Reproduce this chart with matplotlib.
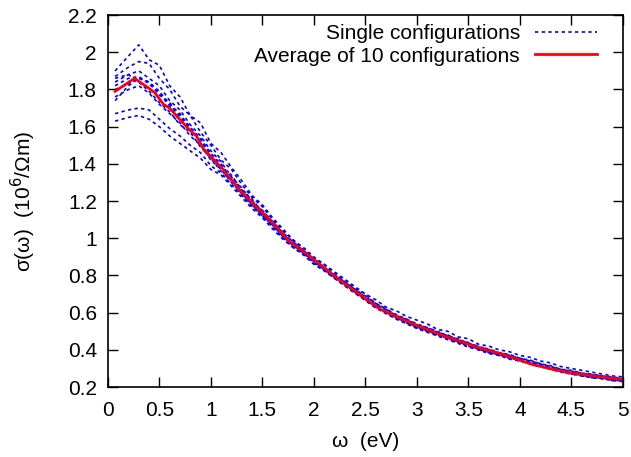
import matplotlib
matplotlib.use('Agg')
import matplotlib.pyplot as plt
from matplotlib.ticker import FuncFormatter

plt.rcParams['font.family'] = ['Liberation Sans', 'DejaVu Sans']

# photon energy grid (eV)
omega = [0.07, 0.2, 0.3, 0.4, 0.5, 0.6, 0.7, 0.8, 0.9, 1.0,
         1.1, 1.2, 1.3, 1.4, 1.5, 1.6, 1.7, 1.8, 1.9, 2.0,
         2.1, 2.2, 2.3, 2.4, 2.5, 2.6, 2.7, 2.8, 2.9, 3.0,
         3.1, 3.2, 3.3, 3.4, 3.5, 3.6, 3.7, 3.8, 3.9, 4.0,
         4.1, 4.2, 4.3, 4.4, 4.5, 4.6, 4.7, 4.8, 4.9, 5.0]

# sigma(omega) of the single configurations (10^6 / Ohm m)
conf1 = [1.90, 1.98, 2.04, 1.96, 1.93, 1.82, 1.76, 1.66, 1.62, 1.51,
         1.46, 1.38, 1.31, 1.23, 1.18, 1.11, 1.05, 0.99, 0.95, 0.90,
         0.86, 0.82, 0.78, 0.74, 0.70, 0.67, 0.63, 0.61, 0.58, 0.56,
         0.54, 0.51, 0.50, 0.47, 0.46, 0.43, 0.42, 0.40, 0.39, 0.37,
         0.36, 0.34, 0.33, 0.31, 0.30, 0.29, 0.28, 0.27, 0.26, 0.255]
conf2 = [1.87, 1.92, 1.95, 1.94, 1.86, 1.80, 1.71, 1.66, 1.57, 1.50,
         1.42, 1.37, 1.29, 1.22, 1.17, 1.10, 1.04, 0.99, 0.94, 0.89,
         0.86, 0.81, 0.77, 0.73, 0.70, 0.65, 0.62, 0.59, 0.565, 0.54,
         0.52, 0.50, 0.475, 0.46, 0.435, 0.42, 0.40, 0.385, 0.37, 0.355,
         0.34, 0.325, 0.31, 0.295, 0.285, 0.275, 0.265, 0.26, 0.25, 0.245]
conf3 = [1.84, 1.88, 1.90, 1.86, 1.82, 1.74, 1.69, 1.61, 1.55, 1.47,
         1.41, 1.33, 1.27, 1.20, 1.15, 1.09, 1.03, 0.98, 0.935, 0.89,
         0.845, 0.80, 0.765, 0.725, 0.69, 0.65, 0.62, 0.585, 0.565, 0.535,
         0.52, 0.495, 0.48, 0.455, 0.44, 0.415, 0.405, 0.385, 0.375, 0.355,
         0.345, 0.325, 0.315, 0.295, 0.29, 0.275, 0.27, 0.26, 0.255, 0.245]
conf4 = [1.82, 1.86, 1.87, 1.83, 1.78, 1.71, 1.66, 1.58, 1.53, 1.44,
         1.39, 1.32, 1.25, 1.19, 1.13, 1.08, 1.01, 0.97, 0.92, 0.88,
         0.83, 0.79, 0.75, 0.71, 0.67, 0.635, 0.60, 0.575, 0.545, 0.525,
         0.50, 0.485, 0.46, 0.445, 0.42, 0.405, 0.385, 0.375, 0.355, 0.345,
         0.325, 0.315, 0.295, 0.285, 0.27, 0.265, 0.25, 0.25, 0.235, 0.235]
conf5 = [1.80, 1.83, 1.86, 1.84, 1.77, 1.73, 1.65, 1.60, 1.52, 1.46,
         1.38, 1.34, 1.26, 1.21, 1.14, 1.09, 1.02, 0.98, 0.93, 0.885,
         0.84, 0.805, 0.76, 0.725, 0.68, 0.645, 0.605, 0.58, 0.55, 0.53,
         0.505, 0.49, 0.465, 0.45, 0.425, 0.41, 0.39, 0.38, 0.36, 0.35,
         0.33, 0.32, 0.30, 0.29, 0.275, 0.27, 0.255, 0.255, 0.24, 0.24]
conf6 = [1.86, 1.88, 1.84, 1.79, 1.73, 1.68, 1.61, 1.57, 1.49, 1.43,
         1.36, 1.31, 1.24, 1.18, 1.13, 1.07, 1.01, 0.96, 0.92, 0.87,
         0.835, 0.79, 0.755, 0.71, 0.675, 0.63, 0.605, 0.57, 0.55, 0.52,
         0.505, 0.48, 0.465, 0.44, 0.43, 0.40, 0.39, 0.37, 0.36, 0.34,
         0.33, 0.31, 0.30, 0.285, 0.275, 0.26, 0.255, 0.245, 0.24, 0.235]
conf7 = [1.76, 1.80, 1.82, 1.78, 1.72, 1.67, 1.62, 1.55, 1.50, 1.42,
         1.37, 1.30, 1.24, 1.18, 1.12, 1.07, 1.01, 0.96, 0.925, 0.875,
         0.84, 0.795, 0.76, 0.715, 0.685, 0.64, 0.615, 0.58, 0.56, 0.53,
         0.515, 0.49, 0.475, 0.45, 0.435, 0.41, 0.40, 0.38, 0.37, 0.35,
         0.34, 0.32, 0.31, 0.29, 0.285, 0.27, 0.265, 0.255, 0.25, 0.24]
conf8 = [1.74, 1.82, 1.86, 1.84, 1.79, 1.72, 1.67, 1.59, 1.54, 1.45,
         1.40, 1.32, 1.26, 1.19, 1.15, 1.08, 1.03, 0.97, 0.935, 0.88,
         0.845, 0.80, 0.765, 0.72, 0.685, 0.64, 0.61, 0.58, 0.555, 0.53,
         0.51, 0.49, 0.47, 0.45, 0.43, 0.41, 0.395, 0.38, 0.365, 0.35,
         0.335, 0.32, 0.305, 0.29, 0.28, 0.27, 0.26, 0.255, 0.245, 0.24]
conf9 = [1.67, 1.69, 1.70, 1.69, 1.64, 1.59, 1.55, 1.50, 1.46, 1.39,
         1.35, 1.29, 1.23, 1.17, 1.12, 1.06, 1.00, 0.95, 0.915, 0.865,
         0.83, 0.785, 0.745, 0.705, 0.665, 0.625, 0.595, 0.565, 0.54, 0.515,
         0.495, 0.475, 0.455, 0.435, 0.415, 0.40, 0.38, 0.37, 0.35, 0.34,
         0.325, 0.31, 0.295, 0.28, 0.27, 0.26, 0.25, 0.245, 0.235, 0.23]
conf10 = [1.63, 1.65, 1.66, 1.64, 1.60, 1.55, 1.51, 1.47, 1.43, 1.37,
          1.34, 1.28, 1.22, 1.16, 1.11, 1.05, 0.995, 0.95, 0.91, 0.86,
          0.825, 0.785, 0.745, 0.705, 0.67, 0.63, 0.60, 0.57, 0.545, 0.52,
          0.50, 0.48, 0.46, 0.44, 0.42, 0.405, 0.385, 0.375, 0.355, 0.345,
          0.33, 0.315, 0.30, 0.285, 0.275, 0.265, 0.255, 0.25, 0.24, 0.235]
singles = [conf1, conf2, conf3, conf4, conf5, conf6, conf7, conf8, conf9, conf10]

# average of the 10 configurations
omega_avg = [0.07, 0.26, 0.31, 0.39, 0.46, 0.54, 0.60, 0.68, 0.78, 0.86, 0.93, 1.12, 1.28, 1.44,
             1.57, 1.77, 1.90, 2.06, 2.24, 2.64, 2.96, 3.29, 3.61, 3.81, 4.13, 4.45, 4.78, 5.0]
sigma_avg = [1.79, 1.86, 1.84, 1.81, 1.78, 1.72, 1.70, 1.65, 1.59, 1.55, 1.48, 1.37, 1.26, 1.17,
             1.10, 0.98, 0.93, 0.86, 0.78, 0.62, 0.54, 0.47, 0.41, 0.38, 0.32, 0.28, 0.255, 0.24]

xticks = [0, 0.5, 1, 1.5, 2, 2.5, 3, 3.5, 4, 4.5, 5]
yticks = [0.2, 0.4, 0.6, 0.8, 1.0, 1.2, 1.4, 1.6, 1.8, 2.0, 2.2]

fig = plt.figure(figsize=(6.31, 4.57), dpi=100)
ax = fig.add_axes([0.171, 0.153, 0.816, 0.814])

for i, s in enumerate(singles):
    ax.plot(omega, s, color='#0000ff', lw=1.2, ls=(0, (2, 2)),
            label='Single configurations' if i == 0 else None)
ax.plot(omega_avg, sigma_avg, color='#ff0000', lw=2.0, label='Average of 10 configurations')

ax.set_xlim(0, 5)
ax.set_ylim(0.2, 2.2)
ax.set_xticks(xticks)
ax.set_yticks(yticks)
fmt = FuncFormatter(lambda v, p: '%g' % v)
ax.xaxis.set_major_formatter(fmt)
ax.yaxis.set_major_formatter(fmt)
ax.tick_params(direction='in', length=7, width=1, top=True, right=True,
               labelsize=15, pad=8)
ax.tick_params(axis='x', pad=10)
for sp in ax.spines.values():
    sp.set_linewidth(1.2)

ax.set_xlabel('ω  (eV)', fontsize=15, labelpad=9)
ax.set_ylabel('σ(ω)  (10$^6$/Ωm)', fontsize=15, labelpad=21)

ax.legend(loc='upper right', bbox_to_anchor=(0.95, 0.975), frameon=False,
          markerfirst=False, fontsize=15, handlelength=3.0, handletextpad=0.7,
          labelspacing=0.15, borderpad=0, borderaxespad=0)

fig.savefig('out.png', dpi=100)
